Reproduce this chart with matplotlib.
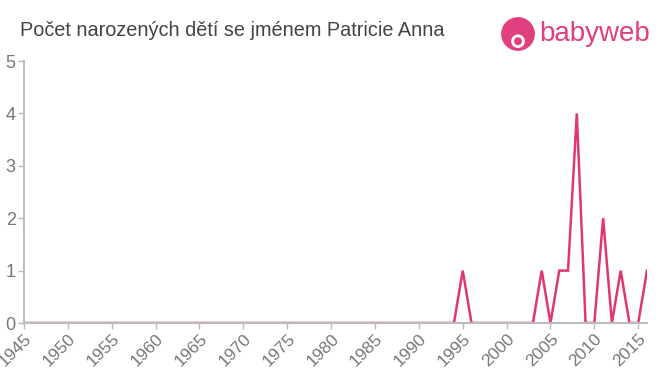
import matplotlib
matplotlib.use("Agg")
import matplotlib.pyplot as plt
from matplotlib.patches import Circle

plt.rcParams["font.family"] = ["Liberation Sans", "DejaVu Sans"]

years = list(range(1945, 2017))
counts = [0] * (1995 - 1945) + [1] + [0] * 8 + [1, 0, 1, 1, 4, 0, 0, 2, 0, 1, 0, 0, 1]
xticks = list(range(1945, 2016, 5))
yticks = [0, 1, 2, 3, 4, 5]
title = "Počet narozených dětí se jménem Patricie Anna"

line_color = "#e0386c"
axis_color = "#bbbbbb"
text_color = "#777777"

fig = plt.figure(figsize=(6.6, 3.75), dpi=100)
ax = fig.add_axes([24 / 660, 1 - 323 / 375, 623 / 660, 262 / 375])
ax.plot(years, counts, color=line_color, linewidth=1.8, solid_joinstyle="miter")
ax.set_xlim(1945, 2016)
ax.set_ylim(0, 5)
ax.set_xticks(xticks)
ax.set_xticklabels([str(y) for y in xticks], rotation=45, ha="right",
                   rotation_mode="anchor", fontsize=12.5, color=text_color)
ax.set_yticks(yticks)
ax.set_yticklabels([str(v) for v in yticks], fontsize=13, color=text_color)
for s in ["top", "right"]:
    ax.spines[s].set_visible(False)
for s in ["left", "bottom"]:
    ax.spines[s].set_color(axis_color)
    ax.spines[s].set_linewidth(1.5)
ax.tick_params(axis="both", colors=axis_color, length=4, width=1)
ax.tick_params(axis="x", labelcolor=text_color, pad=2)
ax.tick_params(axis="y", labelcolor=text_color, pad=2)

fig.text(20 / 660, 1 - 31 / 375, title, fontsize=14.3, color="#444444",
         va="center", ha="left")

# logo
logo_color = "#e0407f"
lax = fig.add_axes([500 / 660, 1 - 52 / 375, 36 / 660, 36 / 375])
lax.set_xlim(0, 1)
lax.set_ylim(0, 1)
lax.set_aspect("equal")
lax.axis("off")
lax.add_patch(Circle((0.5, 0.5), 0.45, color=logo_color))
lax.add_patch(Circle((0.5, 0.3), 0.17, color="white"))
lax.add_patch(Circle((0.5, 0.3), 0.09, color=logo_color))
fig.text(539 / 660, 1 - 34 / 375, "babyweb", fontsize=20, color=logo_color,
         va="center", ha="left")

fig.savefig("out.png", dpi=100)
